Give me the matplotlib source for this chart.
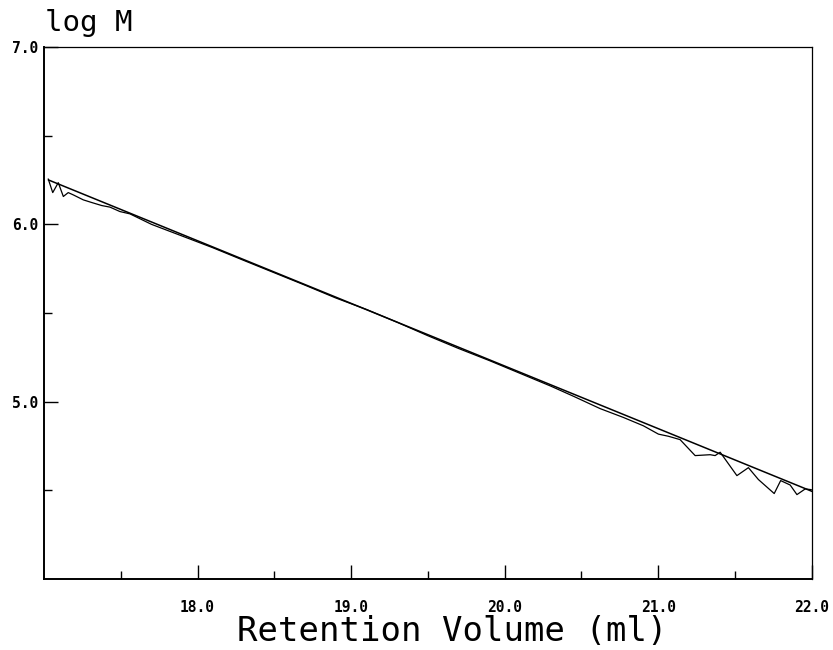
#!/usr/bin/python3
# -*- coding: utf-8 -*-

'''
Calibration curve: log M vs retention volume
'''

import matplotlib
matplotlib.use('Agg')
import matplotlib.pyplot as plt

# measured calibration points (retention volume, log M)
vol = [17.028, 17.057, 17.093, 17.126, 17.158, 17.191, 17.256, 17.311,
       17.376, 17.430, 17.495, 17.560, 17.70, 17.90, 18.10, 18.30,
       18.50, 18.70, 18.90, 19.10, 19.30, 19.50, 19.70, 19.90,
       20.10, 20.30, 20.45, 20.622, 20.774, 20.904, 21.002, 21.067,
       21.143, 21.241, 21.339, 21.371, 21.404, 21.513, 21.588, 21.653,
       21.756, 21.798, 21.860, 21.904, 21.958, 21.997]
logm = [6.255, 6.179, 6.235, 6.157, 6.179, 6.166, 6.138, 6.123,
        6.106, 6.097, 6.072, 6.059, 6.000, 5.934, 5.868, 5.797,
        5.727, 5.657, 5.585, 5.520, 5.448, 5.372, 5.300, 5.232,
        5.160, 5.088, 5.030, 4.961, 4.911, 4.864, 4.817, 4.805,
        4.786, 4.696, 4.701, 4.696, 4.715, 4.583, 4.628, 4.561,
        4.482, 4.555, 4.530, 4.476, 4.508, 4.504]

# linear fit endpoints
fit_vol = [17.03, 22.0]
fit_logm = [6.25, 4.495]

x_major = [18.0, 19.0, 20.0, 21.0, 22.0]
x_minor = [17.5, 18.5, 19.5, 20.5, 21.5]
y_major = [5.0, 6.0, 7.0]
y_minor = [4.5, 5.5, 6.5]

MONO = 'DejaVu Sans Mono'


def main():
    '''
    Main function
    '''
    fig = plt.figure(figsize=(8.33, 6.5), dpi=100)
    ax = fig.add_axes([0.0528, 0.1092, 0.9216, 0.8185])

    ax.plot(vol, logm, color='black', lw=0.9)
    ax.plot(fit_vol, fit_logm, color='black', lw=1.1)

    ax.set_xlim(17.0, 22.0)
    ax.set_ylim(4.0, 7.0)

    ax.set_xticks(x_major)
    ax.set_xticks(x_minor, minor=True)
    ax.set_yticks(y_major)
    ax.set_yticks(y_minor, minor=True)
    ax.set_xticklabels(['%.1f' % v for v in x_major])
    ax.set_yticklabels(['%.1f' % v for v in y_major])

    ax.tick_params(which='major', direction='in', length=10, width=1.0,
                   color='black')
    ax.tick_params(which='minor', direction='in', length=6, width=1.0,
                   color='black')
    ax.tick_params(axis='x', which='major', pad=15)
    ax.tick_params(axis='y', which='major', pad=4)
    for lab in ax.get_xticklabels() + ax.get_yticklabels():
        lab.set_fontfamily(MONO)
        lab.set_fontsize(10.5)
        lab.set_fontweight('bold')

    for side in ['left', 'bottom']:
        ax.spines[side].set_linewidth(1.4)
    for side in ['top', 'right']:
        ax.spines[side].set_linewidth(0.9)

    fig.text(0.543, 0.014, 'Retention Volume (ml)', family=MONO,
             fontsize=24.5, ha='center', va='baseline')
    fig.text(0.054, 0.953, 'log M', family=MONO, fontsize=21,
             ha='left', va='baseline')

    fig.savefig('out.png', dpi=100)


if __name__ == '__main__':
    main()
